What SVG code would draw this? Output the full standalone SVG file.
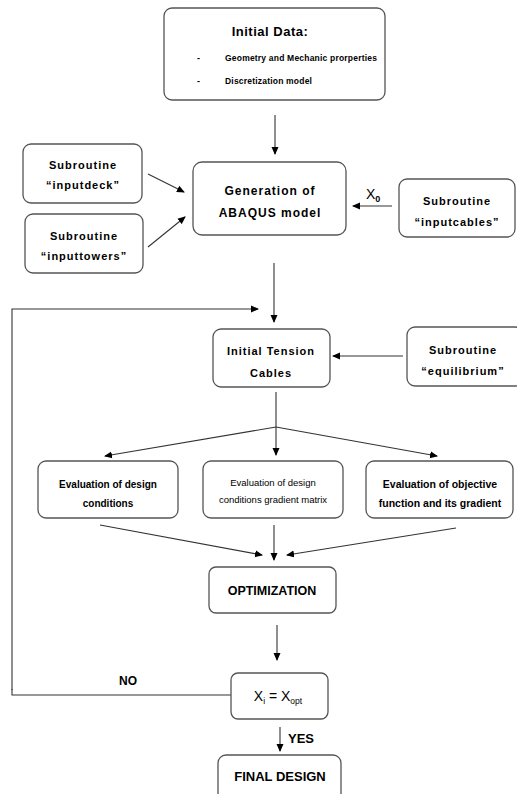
<svg xmlns="http://www.w3.org/2000/svg" width="517" height="794" viewBox="0 0 517 794">
<defs>
<marker id="ah" markerWidth="8" markerHeight="8" refX="7" refY="4" orient="auto" markerUnits="userSpaceOnUse">
<path d="M0,0.5 L8,4 L0,7.5 Z" fill="#000"/>
</marker>
<style>
.box{fill:#fff;stroke:#555;stroke-width:1.3}
.ln{fill:none;stroke:#333;stroke-width:1.1}
.ar{fill:none;stroke:#333;stroke-width:1.1;marker-end:url(#ah)}
.t{font-family:"Liberation Sans",Arial,sans-serif;font-weight:bold;fill:#000;text-anchor:middle}
.s{font-size:11px;letter-spacing:1px}
.m{font-size:12px;letter-spacing:1px}
.r{font-family:"Liberation Sans",Arial,sans-serif;font-weight:normal;font-size:9.5px;fill:#000;text-anchor:middle}
</style>
</defs>
<rect width="517" height="794" fill="#fff"/>

<g id="connectors">
<line class="ar" x1="275" y1="115" x2="275" y2="154"/>
<line class="ar" x1="148" y1="174" x2="184" y2="192"/>
<line class="ar" x1="148" y1="247" x2="185" y2="217"/>
<line class="ar" x1="392" y1="206" x2="353" y2="206"/>
<line class="ar" x1="274" y1="263" x2="274" y2="322"/>
<polyline class="ar" points="12,690 12,309 258,309"/>
<line class="ar" x1="403" y1="356" x2="333" y2="356"/>
<line class="ln" x1="276" y1="392" x2="276" y2="427"/>
<line class="ar" x1="276" y1="427" x2="105" y2="456"/>
<line class="ar" x1="276" y1="427" x2="276" y2="455"/>
<line class="ar" x1="276" y1="427" x2="437" y2="456"/>
<line class="ar" x1="100" y1="525" x2="262" y2="555"/>
<line class="ar" x1="274" y1="525" x2="274" y2="560"/>
<line class="ar" x1="456" y1="528" x2="287" y2="555"/>
<line class="ar" x1="277" y1="625" x2="277" y2="660"/>
<polyline class="ln" points="12,689 12,695 231,695"/>
<line class="ar" x1="280" y1="727" x2="280" y2="751"/>
</g>

<g id="initial-data">
<rect class="box" x="164" y="8" width="221" height="92" rx="8"/>
<text class="t" x="270" y="36" font-size="13" letter-spacing="0.5">Initial Data:</text>
<text class="t" x="197" y="61" font-size="9" style="text-anchor:start">-</text>
<text class="t" x="225" y="61" font-size="8.5" style="text-anchor:start" letter-spacing="0.2">Geometry and Mechanic prorperties</text>
<text class="t" x="197" y="84" font-size="9" style="text-anchor:start">-</text>
<text class="t" x="225" y="84" font-size="8.5" style="text-anchor:start" letter-spacing="0.2">Discretization model</text>
</g>

<g id="generation">
<rect class="box" x="193" y="162" width="153" height="73" rx="9"/>
<text class="t m" x="270" y="195">Generation of</text>
<text class="t m" x="270" y="217">ABAQUS model</text>
</g>

<g id="inputdeck">
<rect class="box" x="23" y="144" width="119" height="59" rx="8"/>
<text class="t s" x="83" y="169">Subroutine</text>
<text class="t s" x="83" y="189">“inputdeck”</text>
</g>

<g id="inputtowers">
<rect class="box" x="25" y="214" width="118" height="59" rx="8"/>
<text class="t s" x="84" y="240">Subroutine</text>
<text class="t s" x="84" y="260">“inputtowers”</text>
</g>

<g id="inputcables">
<rect class="box" x="399" y="179" width="116" height="58" rx="8"/>
<text class="t s" x="457" y="205">Subroutine</text>
<text class="t s" x="457" y="226">“inputcables”</text>
<text x="366" y="199" font-family="Liberation Sans, Arial, sans-serif" font-size="14" fill="#000">X<tspan font-size="9" font-weight="bold" dy="3">0</tspan></text>
</g>

<g id="initial-tension">
<rect class="box" x="213" y="329" width="117" height="58" rx="8"/>
<text class="t s" x="271" y="355" letter-spacing="0.6">Initial Tension</text>
<text class="t s" x="271" y="377" letter-spacing="0.6">Cables</text>
</g>

<g id="equilibrium">
<rect class="box" x="407" y="327" width="116" height="59" rx="8"/>
<text class="t s" x="463" y="354">Subroutine</text>
<text class="t s" x="463" y="375">“equilibrium”</text>
</g>

<g id="eval-design">
<rect class="box" x="38" y="461" width="140" height="57" rx="8"/>
<text class="t" x="108" y="488" font-size="10">Evaluation of design</text>
<text class="t" x="108" y="507" font-size="10">conditions</text>
</g>

<g id="eval-gradient">
<rect class="box" x="203" y="461" width="140" height="57" rx="8"/>
<text class="r" x="273" y="486">Evaluation of design</text>
<text class="r" x="273" y="503">conditions gradient matrix</text>
</g>

<g id="eval-objective">
<rect class="box" x="366" y="461" width="147" height="57" rx="8"/>
<text class="t" x="440" y="488" font-size="10.5">Evaluation of objective</text>
<text class="t" x="440" y="507" font-size="10.5">function and its gradient</text>
</g>

<g id="optimization">
<rect class="box" x="209" y="567" width="127" height="46" rx="7"/>
<text class="t" x="272" y="595" font-size="12.5">OPTIMIZATION</text>
</g>

<g id="check">
<rect class="box" x="231" y="673" width="97" height="46" rx="7"/>
<text x="278" y="701" font-family="Liberation Sans, Arial, sans-serif" font-size="14" text-anchor="middle" fill="#000">X<tspan font-size="8.5" dy="3">i</tspan><tspan dy="-3"> = X</tspan><tspan font-size="8.5" dy="3">opt</tspan></text>
<text class="t" x="128" y="685" font-size="12">NO</text>
<text class="t" x="288" y="743" font-size="13" style="text-anchor:start">YES</text>
</g>

<g id="final-design">
<rect class="box" x="218" y="755" width="123" height="60" rx="8"/>
<text class="t" x="280" y="781" font-size="13">FINAL DESIGN</text>
</g>
</svg>
